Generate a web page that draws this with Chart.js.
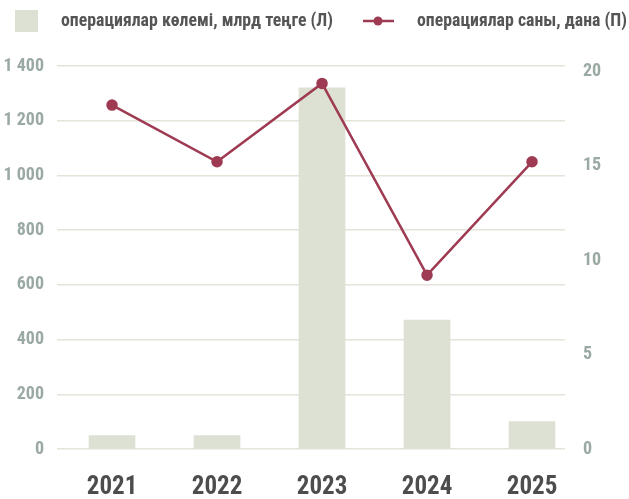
<!DOCTYPE html>
<html>
<head>
<meta charset="utf-8">
<script src="https://cdn.jsdelivr.net/npm/chart.js@4"></script>
<style>
  html, body { margin: 0; padding: 0; background: #fff; }
  #wrap { width: 629px; height: 499px; }
</style>
</head>
<body>
<div id="wrap"><canvas id="chartCanvas" width="629" height="499"></canvas></div>
<script>
// данные
const years = ["2021", "2022", "2023", "2024", "2025"];
const volume = [49, 49, 1320, 471, 100]; // млрд теңге (Л)
const count = [18.2, 15.2, 19.35, 9.2, 15.2]; // дана (П)
const leftTicks = [0, 200, 400, 600, 800, 1000, 1200, 1400];
const rightTicks = [0, 5, 10, 15, 20];

const volumeLabel = "операциялар көлемі, млрд теңге (Л)";
const countLabel = "операциялар саны, дана (П)";

const FONT = "'Roboto Condensed', Roboto, sans-serif";
const barColor = "#dde1d3";
const lineColor = "#9e3b52";
const gridColor = "#e4e4da";
const tickColor = "#9aa9a2";

const fmt = (v) => String(v).replace(/\B(?=(\d{3})+(?!\d))/g, " ");

// текст легенды сжимаем по ширине, как в оригинале
const squeezeText = (c, text, x, y, width) => {
  const w = c.measureText(text).width;
  c.save();
  c.translate(x, y);
  c.scale(Math.min(1, width / w), 1);
  c.fillText(text, 0, 0);
  c.restore();
};

const legendPlugin = {
  id: "topLegend",
  beforeInit(chart) {
    chart.ctx.letterSpacing = "-1px";
  },
  afterDraw(chart) {
    const c = chart.ctx;
    c.save();
    c.letterSpacing = "0px";
    c.font = "bold 19px " + FONT;
    c.textBaseline = "middle";
    c.fillStyle = barColor;
    c.fillRect(15, 10, 23, 22);
    c.fillStyle = "#555";
    squeezeText(c, volumeLabel, 61, 21, 272);
    c.strokeStyle = lineColor;
    c.lineWidth = 2.5;
    c.beginPath();
    c.moveTo(363, 21);
    c.lineTo(394, 21);
    c.stroke();
    c.fillStyle = lineColor;
    c.beginPath();
    c.arc(378, 21, 4.5, 0, Math.PI * 2);
    c.fill();
    c.fillStyle = "#555";
    squeezeText(c, countLabel, 417, 21, 210);
    c.restore();
  },
};

const ctx = document.getElementById("chartCanvas").getContext("2d");
new Chart(ctx, {
  data: {
    datasets: [
      {
        type: "line",
        label: countLabel,
        data: count.map((v, i) => ({ x: i, y: v })),
        yAxisID: "yR",
        borderColor: lineColor,
        backgroundColor: lineColor,
        borderWidth: 2.5,
        pointRadius: 4.5,
        pointHoverRadius: 4.5,
        tension: 0,
      },
      {
        type: "bar",
        label: volumeLabel,
        data: volume.map((v, i) => ({ x: i, y: v })),
        yAxisID: "yL",
        backgroundColor: barColor,
        barThickness: 46,
      },
    ],
  },
  options: {
    responsive: false,
    animation: false,
    layout: { padding: { top: 66, left: 0, right: 0, bottom: 0 } },
    plugins: { legend: { display: false }, tooltip: { enabled: false } },
    scales: {
      x: {
        type: "linear",
        offset: false,
        min: -0.524,
        max: 4.314,
        grid: { display: false },
        border: { display: false },
        afterBuildTicks: (s) => { s.ticks = years.map((_, i) => ({ value: i })); },
        afterFit: (s) => { s.height = 50; },
        ticks: {
          callback: (v) => years[v],
          color: "#4d4d4d",
          padding: 16,
          maxRotation: 0,
          autoSkip: false,
          font: { family: FONT, size: 25, weight: "bold" },
        },
      },
      yL: {
        position: "left",
        min: 0,
        max: 1400,
        afterBuildTicks: (s) => { s.ticks = leftTicks.map((v) => ({ value: v })); },
        afterFit: (s) => { s.width = 57; },
        grid: { color: gridColor, lineWidth: 1.5, drawTicks: false },
        border: { display: false },
        ticks: {
          callback: (v) => fmt(v),
          color: tickColor,
          padding: 13,
          font: { family: FONT, size: 18, weight: "bold" },
        },
      },
      yR: {
        position: "right",
        min: 0,
        max: 20.27,
        afterBuildTicks: (s) => { s.ticks = rightTicks.map((v) => ({ value: v })); },
        afterFit: (s) => { s.width = 64; },
        grid: { display: false, drawTicks: false },
        border: { display: false },
        ticks: {
          color: tickColor,
          padding: 18,
          font: { family: FONT, size: 18, weight: "bold" },
        },
      },
    },
  },
  plugins: [legendPlugin],
});
</script>
</body>
</html>
